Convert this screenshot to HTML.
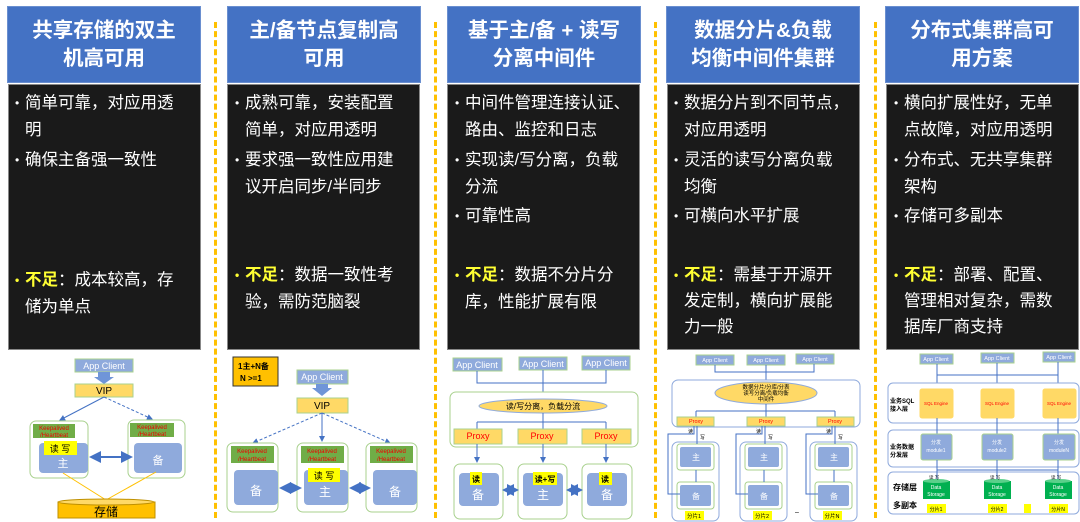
<!DOCTYPE html>
<html><head><meta charset="utf-8"><style>
*{margin:0;padding:0;box-sizing:border-box}
body{width:1080px;height:522px;background:#fff;position:relative;overflow:hidden;font-family:"Liberation Sans","Noto Sans CJK SC",sans-serif}
.hd{position:absolute;top:6px;width:194px;height:77px;background:#4472c4;color:#fff;font-weight:bold;font-size:20.5px;line-height:28px;text-align:center;padding-top:10px;border:1px solid #6a8fd0}
.pn{position:absolute;top:84px;width:193px;height:266px;background:#1a1a1a;border:1px solid #888}
.l{position:absolute;color:#fff;font-size:16.5px;line-height:20px;white-space:nowrap}
.b{position:absolute;color:#fff;font-size:12px;line-height:20px}
.y{color:#ffff33;font-weight:bold}
.sep{position:absolute;top:22px;height:496px;width:0;border-left:3px dashed #ffc000}
svg{position:absolute;left:0;top:0}
</style></head><body>
<div class="sep" style="left:214px"></div>
<div class="sep" style="left:434px"></div>
<div class="sep" style="left:654px"></div>
<div class="sep" style="left:874px"></div>

<div class="hd" style="left:7px">共享存储的双主<br>机高可用</div>
<div class="hd" style="left:227px">主/备节点复制高<br>可用</div>
<div class="hd" style="left:447px">基于主/备 + 读写<br>分离中间件</div>
<div class="hd" style="left:666px">数据分片&amp;负载<br>均衡中间件集群</div>
<div class="hd" style="left:885px">分布式集群高可<br>用方案</div>

<div class="pn" style="left:8px"></div>
<div class="pn" style="left:227px"></div>
<div class="pn" style="left:447px"></div>
<div class="pn" style="left:667px"></div>
<div class="pn" style="left:886px"></div>

<!-- col1 -->
<div class="b" style="left:15px;top:93px">•</div><div class="l" style="left:25px;top:93px">简单可靠，对应用透</div>
<div class="l" style="left:25px;top:120px">明</div>
<div class="b" style="left:15px;top:150px">•</div><div class="l" style="left:25px;top:150px">确保主备强一致性</div>
<div class="b y" style="left:15px;top:270px">•</div><div class="l" style="left:25px;top:270px"><span class="y">不足</span>：成本较高，存</div>
<div class="l" style="left:25px;top:297px">储为单点</div>
<!-- col2 -->
<div class="b" style="left:235px;top:93px">•</div><div class="l" style="left:245px;top:93px">成熟可靠，安装配置</div>
<div class="l" style="left:245px;top:120px">简单，对应用透明</div>
<div class="b" style="left:235px;top:150px">•</div><div class="l" style="left:245px;top:150px">要求强一致性应用建</div>
<div class="l" style="left:245px;top:177px">议开启同步/半同步</div>
<div class="b y" style="left:235px;top:265px">•</div><div class="l" style="left:245px;top:265px"><span class="y">不足</span>：数据一致性考</div>
<div class="l" style="left:245px;top:292px">验，需防范脑裂</div>
<!-- col3 -->
<div class="b" style="left:455px;top:93px">•</div><div class="l" style="left:465px;top:93px">中间件管理连接认证、</div>
<div class="l" style="left:465px;top:120px">路由、监控和日志</div>
<div class="b" style="left:455px;top:150px">•</div><div class="l" style="left:465px;top:150px">实现读/写分离，负载</div>
<div class="l" style="left:465px;top:177px">分流</div>
<div class="b" style="left:455px;top:206px">•</div><div class="l" style="left:465px;top:206px">可靠性高</div>
<div class="b y" style="left:455px;top:265px">•</div><div class="l" style="left:465px;top:265px"><span class="y">不足</span>：数据不分片分</div>
<div class="l" style="left:465px;top:292px">库，性能扩展有限</div>
<!-- col4 -->
<div class="b" style="left:674px;top:93px">•</div><div class="l" style="left:684px;top:93px">数据分片到不同节点，</div>
<div class="l" style="left:684px;top:120px">对应用透明</div>
<div class="b" style="left:674px;top:150px">•</div><div class="l" style="left:684px;top:150px">灵活的读写分离负载</div>
<div class="l" style="left:684px;top:177px">均衡</div>
<div class="b" style="left:674px;top:206px">•</div><div class="l" style="left:684px;top:206px">可横向水平扩展</div>
<div class="b y" style="left:674px;top:265px">•</div><div class="l" style="left:684px;top:265px"><span class="y">不足</span>：需基于开源开</div>
<div class="l" style="left:684px;top:291px">发定制，横向扩展能</div>
<div class="l" style="left:684px;top:317px">力一般</div>
<!-- col5 -->
<div class="b" style="left:894px;top:93px">•</div><div class="l" style="left:904px;top:93px">横向扩展性好，无单</div>
<div class="l" style="left:904px;top:120px">点故障，对应用透明</div>
<div class="b" style="left:894px;top:150px">•</div><div class="l" style="left:904px;top:150px">分布式、无共享集群</div>
<div class="l" style="left:904px;top:177px">架构</div>
<div class="b" style="left:894px;top:206px">•</div><div class="l" style="left:904px;top:206px">存储可多副本</div>
<div class="b y" style="left:894px;top:265px">•</div><div class="l" style="left:904px;top:265px"><span class="y">不足</span>：部署、配置、</div>
<div class="l" style="left:904px;top:291px">管理相对复杂，需数</div>
<div class="l" style="left:904px;top:317px">据库厂商支持</div>

<svg width="1080" height="522" font-family="Liberation Sans, Noto Sans CJK SC, sans-serif">
<defs>
<marker id="a" markerWidth="6" markerHeight="6" refX="5" refY="3" orient="auto"><path d="M0,0L6,3L0,6z" fill="#4472c4"/></marker>
<marker id="as" markerWidth="6" markerHeight="6" refX="1" refY="3" orient="auto"><path d="M6,0L0,3L6,6z" fill="#4472c4"/></marker>
</defs>
<g stroke-width="1">
<!-- col1 -->
<rect x="75" y="359" width="58" height="13" fill="#8faadc" stroke="#a9d18e"/><text x="104" y="369" font-size="9" fill="#fff" text-anchor="middle">App Client</text>
<path d="M98,372h12v5h4l-10,7l-10,-7h4z" fill="#6f95d8"/>
<rect x="75" y="384" width="58" height="13" fill="#ffd966" stroke="#a9d18e"/><text x="104" y="394" font-size="10" text-anchor="middle">VIP</text>
<line x1="104" y1="397" x2="60" y2="420" stroke="#4472c4" marker-end="url(#a)"/>
<line x1="104" y1="397" x2="152" y2="419" stroke="#4472c4" stroke-dasharray="3,2" marker-end="url(#a)"/>
<rect x="30" y="421" width="58" height="57" rx="6" fill="#fff" stroke="#a9d18e"/>
<rect x="33" y="424" width="42" height="14" fill="#70ad47"/><text x="54" y="430" font-size="6" fill="#e00" text-anchor="middle">Keepalived</text><text x="54" y="437" font-size="6" fill="#e00" text-anchor="middle">/Heartbeat</text>
<rect x="39" y="443" width="49" height="30" rx="4" fill="#8faadc"/><text x="63" y="467" font-size="11" fill="#fff" text-anchor="middle">主</text>
<rect x="44" y="441" width="33" height="14" fill="#ffff00"/><text x="60" y="452" font-size="9" text-anchor="middle">读 写</text>
<rect x="128" y="420" width="57" height="58" rx="6" fill="#fff" stroke="#a9d18e"/>
<rect x="130" y="423" width="44" height="14" fill="#70ad47"/><text x="152" y="429" font-size="6" fill="#e00" text-anchor="middle">Keepalived</text><text x="152" y="436" font-size="6" fill="#e00" text-anchor="middle">/Heartbeat</text>
<rect x="134" y="443" width="48" height="30" rx="4" fill="#8faadc"/><text x="158" y="464" font-size="11" fill="#fff" text-anchor="middle">备</text>
<line x1="91" y1="457" x2="131" y2="457" stroke="#4472c4" stroke-width="2" marker-end="url(#a)" marker-start="url(#as)"/>
<line x1="63" y1="473" x2="106" y2="500" stroke="#ffc000"/><line x1="156" y1="472" x2="106" y2="500" stroke="#ffc000"/>
<rect x="58" y="502" width="97" height="16" fill="#ffc000" stroke="#bf9000"/><ellipse cx="106" cy="502" rx="48" ry="3" fill="#ffd966" stroke="#bf9000"/>
<text x="106" y="516" font-size="12" text-anchor="middle">存储</text>
<!-- col2 -->
<rect x="233" y="357" width="45" height="29" fill="#ffc000" stroke="#333"/><text x="238" y="369" font-size="8" font-weight="bold">1主+N备</text><text x="240" y="381" font-size="8" font-weight="bold">N &gt;=1</text>
<rect x="297" y="370" width="51" height="14" fill="#8faadc" stroke="#a9d18e"/><text x="322" y="380" font-size="9" fill="#fff" text-anchor="middle">App Client</text>
<path d="M316,384h12v4h4l-10,8l-10,-8h4z" fill="#6f95d8"/>
<rect x="297" y="398" width="51" height="15" fill="#ffd966" stroke="#a9d18e"/><text x="322" y="409" font-size="10" text-anchor="middle">VIP</text>
<line x1="322" y1="413" x2="253" y2="443" stroke="#4472c4" stroke-dasharray="3,2" marker-end="url(#a)"/>
<line x1="322" y1="413" x2="322" y2="441" stroke="#4472c4" marker-end="url(#a)"/>
<line x1="322" y1="413" x2="390" y2="443" stroke="#4472c4" stroke-dasharray="3,2" marker-end="url(#a)"/>
<g id="c2">
<rect x="227" y="443" width="51" height="69" rx="6" fill="#fff" stroke="#a9d18e"/>
<rect x="231" y="446" width="43" height="17" fill="#70ad47"/><text x="252" y="453" font-size="6" fill="#e00" text-anchor="middle">Keepalived</text><text x="252" y="461" font-size="6" fill="#e00" text-anchor="middle">/Heartbeat</text>
<rect x="234" y="470" width="44" height="35" rx="4" fill="#8faadc"/>
</g>
<text x="256" y="495" font-size="12" fill="#fff" text-anchor="middle">备</text>
<use href="#c2" x="70"/><use href="#c2" x="139"/>
<text x="325" y="496" font-size="12" fill="#fff" text-anchor="middle">主</text>
<text x="395" y="496" font-size="12" fill="#fff" text-anchor="middle">备</text>
<rect x="308" y="468" width="32" height="14" fill="#ffff00"/><text x="324" y="479" font-size="9" text-anchor="middle">读 写</text>
<line x1="281" y1="488" x2="300" y2="488" stroke="#4472c4" stroke-width="2" marker-end="url(#a)" marker-start="url(#as)"/>
<line x1="351" y1="488" x2="369" y2="488" stroke="#4472c4" stroke-width="2" marker-end="url(#a)" marker-start="url(#as)"/>
<!-- col3 -->
<g fill="#8faadc" stroke="#a9d18e"><rect x="453" y="358" width="49" height="13"/><rect x="519" y="357" width="48" height="13"/><rect x="582" y="356" width="48" height="14"/></g>
<g font-size="9" fill="#fff" text-anchor="middle"><text x="477" y="368">App Client</text><text x="543" y="367">App Client</text><text x="606" y="366">App Client</text></g>
<path d="M477,371v12h129v-13M543,370v22" stroke="#4472c4" fill="none"/>
<rect x="450" y="392" width="188" height="55" rx="6" fill="#fff" stroke="#a9d18e"/>
<ellipse cx="543" cy="406" rx="64" ry="7" fill="#ffd966" stroke="#8faadc"/><text x="543" y="409" font-size="8" text-anchor="middle">读/写分离，负载分流</text>
<path d="M543,413v9M477,422h129M477,422v7M543,422v7M606,422v7" stroke="#4472c4" fill="none"/>
<g fill="#ffd966" stroke="#a9d18e"><rect x="454" y="429" width="48" height="15"/><rect x="518" y="429" width="49" height="15"/><rect x="582" y="429" width="49" height="15"/></g>
<g font-size="9" fill="#f00" text-anchor="middle"><text x="478" y="439">Proxy</text><text x="542" y="439">Proxy</text><text x="606" y="439">Proxy</text></g>
<g stroke="#4472c4"><line x1="477" y1="444" x2="477" y2="462" marker-end="url(#a)"/><line x1="543" y1="444" x2="543" y2="462" marker-end="url(#a)"/><line x1="606" y1="444" x2="606" y2="462" marker-end="url(#a)"/></g>
<g fill="#fff" stroke="#a9d18e"><rect x="454" y="464" width="49" height="55" rx="6"/><rect x="518" y="464" width="49" height="55" rx="6"/><rect x="582" y="464" width="50" height="55" rx="6"/></g>
<g fill="#8faadc"><rect x="459" y="473" width="40" height="33" rx="4"/><rect x="523" y="473" width="40" height="33" rx="4"/><rect x="587" y="473" width="40" height="33" rx="4"/></g>
<g font-size="12" fill="#fff" text-anchor="middle"><text x="478" y="499">备</text><text x="543" y="499">主</text><text x="607" y="499">备</text></g>
<g fill="#ffff00"><rect x="470" y="472" width="12" height="13"/><rect x="533" y="472" width="24" height="13"/><rect x="599" y="472" width="13" height="13"/></g>
<g font-size="8" font-weight="bold" text-anchor="middle"><text x="476" y="482">读</text><text x="545" y="482">读+写</text><text x="605" y="482">读</text></g>
<line x1="504" y1="490" x2="517" y2="490" stroke="#4472c4" stroke-width="2" marker-end="url(#a)" marker-start="url(#as)"/>
<line x1="568" y1="490" x2="581" y2="490" stroke="#4472c4" stroke-width="2" marker-end="url(#a)" marker-start="url(#as)"/>
<!-- col4 -->
<g fill="#8faadc" stroke="#a9d18e"><rect x="696" y="355" width="38" height="10"/><rect x="747" y="355" width="38" height="10"/><rect x="796" y="354" width="38" height="10"/></g>
<g font-size="5.5" fill="#fff" text-anchor="middle"><text x="715" y="362">App Client</text><text x="766" y="362">App Client</text><text x="815" y="361">App Client</text></g>
<path d="M715,365v7h99v-8M766,365v15" stroke="#4472c4" fill="none"/>
<rect x="672" y="380" width="188" height="47" rx="6" fill="#fff" stroke="#8faadc"/>
<ellipse cx="766" cy="393" rx="51" ry="11" fill="#ffd966" stroke="#8faadc"/>
<g font-size="5.5" text-anchor="middle"><text x="766" y="389">数据分片/分库/分表</text><text x="766" y="395">读写分离/负载均衡</text><text x="766" y="401">中间件</text></g>
<path d="M766,404v7M696,411h139M696,411v6M766,411v6M835,411v6" stroke="#4472c4" fill="none"/>
<g fill="#ffd966" stroke="#a9d18e"><rect x="677" y="417" width="37" height="9"/><rect x="747" y="417" width="38" height="9"/><rect x="817" y="417" width="37" height="9"/></g>
<g font-size="5.5" fill="#f00" text-anchor="middle"><text x="696" y="423">Proxy</text><text x="766" y="423">Proxy</text><text x="835" y="423">Proxy</text></g>
<g id="c4">
<rect x="672" y="442" width="47" height="79" rx="6" fill="#fff" stroke="#8faadc"/>
<rect x="677" y="444" width="37" height="26" rx="3" fill="#fff" stroke="#a9d18e"/><rect x="680" y="447" width="31" height="20" rx="2" fill="#8faadc"/>
<rect x="677" y="482" width="37" height="27" rx="3" fill="#fff" stroke="#a9d18e"/><rect x="680" y="485" width="31" height="21" rx="2" fill="#8faadc"/>
<path d="M697,426v18M696,470v12" stroke="#4472c4" fill="none"/>
<path d="M694,426v8h-26v60h12" stroke="#4472c4" fill="none"/>
<rect x="685" y="511" width="19" height="9" fill="#ffff00"/>
</g>
<use href="#c4" x="68"/><use href="#c4" x="138"/>
<g font-size="8" fill="#fff" text-anchor="middle"><text x="696" y="460">主</text><text x="764" y="460">主</text><text x="834" y="460">主</text><text x="696" y="499">备</text><text x="764" y="499">备</text><text x="834" y="499">备</text></g>
<g font-size="5.5" text-anchor="middle"><text x="694" y="518">分片1</text><text x="762" y="518">分片2</text><text x="832" y="518">分片N</text></g>
<g font-size="5"><text x="688" y="433">读</text><text x="700" y="439">写</text><text x="756" y="433">读</text><text x="768" y="439">写</text><text x="826" y="433">读</text><text x="838" y="439">写</text></g>
<text x="795" y="514" font-size="7">–</text>
<!-- col5 -->
<g fill="#8faadc" stroke="#a9d18e"><rect x="920" y="354" width="33" height="10"/><rect x="981" y="353" width="33" height="10"/><rect x="1043" y="352" width="32" height="10"/></g>
<g font-size="5.5" fill="#fff" text-anchor="middle"><text x="936" y="361">App Client</text><text x="997" y="360">App Client</text><text x="1059" y="359">App Client</text></g>
<path d="M937,364v19M997,363v20M1058,362v21M937,375h121" stroke="#4472c4" fill="none"/>
<g fill="#fff" stroke="#8faadc"><rect x="888" y="383" width="191" height="40" rx="5"/><rect x="888" y="430" width="191" height="37" rx="5"/><rect x="888" y="472" width="191" height="42" rx="5"/></g>
<g font-size="6" font-weight="bold"><text x="890" y="403">业务SQL</text><text x="890" y="411">接入层</text><text x="890" y="449">业务数据</text><text x="890" y="457">分发层</text></g>
<g font-size="8" font-weight="bold"><text x="893" y="490">存储层</text><text x="893" y="508">多副本</text></g>
<g fill="#ffd966" stroke="#ffd966"><rect x="920" y="389" width="33" height="29" rx="2"/><rect x="981" y="389" width="33" height="29" rx="2"/><rect x="1043" y="389" width="33" height="29" rx="2"/></g>
<g font-size="4.5" fill="#f00" text-anchor="middle"><text x="936" y="405">SQL Engine</text><text x="997" y="405">SQL Engine</text><text x="1059" y="405">SQL Engine</text></g>
<path d="M937,418v16M997,418v16M1058,418v16" stroke="#4472c4"/>
<g fill="#8faadc" stroke="#a9d18e"><rect x="921" y="434" width="31" height="26" rx="2"/><rect x="982" y="434" width="31" height="26" rx="2"/><rect x="1043" y="434" width="32" height="26" rx="2"/></g>
<g font-size="5" fill="#fff" text-anchor="middle"><text x="936" y="444">分发</text><text x="936" y="452">module1</text><text x="997" y="444">分发</text><text x="997" y="452">module2</text><text x="1059" y="444">分发</text><text x="1059" y="452">moduleN</text></g>
<path d="M937,460v19M997,460v19M1058,460v19M937,470h121" stroke="#4472c4" fill="none"/>
<g fill="#00b050"><rect x="923" y="481" width="27" height="18"/><rect x="984" y="481" width="27" height="18"/><rect x="1045" y="481" width="27" height="18"/></g>
<g fill="#5ad08a"><ellipse cx="936" cy="481" rx="13" ry="2"/><ellipse cx="997" cy="481" rx="13" ry="2"/><ellipse cx="1058" cy="481" rx="13" ry="2"/></g>
<g font-size="5" fill="#fff" text-anchor="middle"><text x="936" y="489">Data</text><text x="936" y="496">Storage</text><text x="997" y="489">Data</text><text x="997" y="496">Storage</text><text x="1058" y="489">Data</text><text x="1058" y="496">Storage</text></g>
<g font-size="4.5"><text x="929" y="479">读 写</text><text x="990" y="479">读 写</text><text x="1051" y="479">读 写</text></g>
<g fill="#ffff00"><rect x="927" y="504" width="19" height="9"/><rect x="988" y="504" width="19" height="9"/><rect x="1024" y="504" width="7" height="9"/><rect x="1049" y="504" width="19" height="9"/></g>
<g font-size="5" text-anchor="middle"><text x="936" y="511">分片1</text><text x="997" y="511">分片2</text><text x="1058" y="511">分片N</text></g>
</g>
</svg>
</body></html>
